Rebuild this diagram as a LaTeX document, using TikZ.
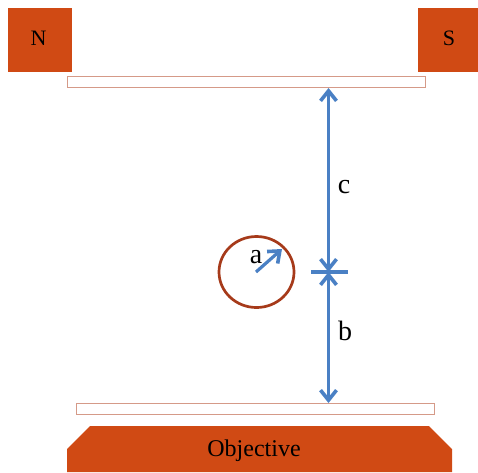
\documentclass[tikz,border=0pt]{standalone}
\usepackage{fontspec}
\setmainfont{Liberation Serif}
\usetikzlibrary{arrows.meta,shapes.geometric}
\definecolor{rust}{HTML}{D04A14}
\definecolor{ringc}{HTML}{A63A1A}
\definecolor{slidec}{HTML}{D59A88}
\definecolor{arrowc}{HTML}{4A80C4}
\tikzset{
  barb/.tip={Straight Barb[length=10pt,width=16pt,line width=3.6pt]},
  magnet/.style={fill=rust,draw=none,inner sep=0pt},
  maglab/.style={font=\fontsize{22}{26}\selectfont,inner sep=0pt,text=black},
  slide/.style={draw=slidec,line width=1.9pt,fill=white,inner sep=0pt},
  ring/.style={draw=ringc,line width=2.7pt,ellipse,inner sep=0pt},
  dim/.style={draw=arrowc,line width=3.6pt,barb-barb},
  radius arrow/.style={draw=arrowc,line width=3.2pt,-barb},
  tick/.style={draw=arrowc,line width=3.6pt},
  lab/.style={font=\fontsize{28}{30}\selectfont,inner sep=0pt,text=black}
}
\begin{document}
\begin{tikzpicture}[x=1pt,y=-1pt]
\useasboundingbox (0,0) rectangle (478,472);
\node[magnet,minimum width=64pt,minimum height=64pt] (n) at (40,40) {};
\node[maglab] (nlab) at (38.5,38.5) {N};
\node[magnet,minimum width=61pt,minimum height=64pt] (s) at (448.5,40) {};
\node[maglab] (slab) at (449,38.5) {S};
\node[slide,minimum width=358pt,minimum height=11pt] (top) at (246.5,82) {};
\node[slide,minimum width=358pt,minimum height=11pt] (bot) at (255.5,409) {};
\fill[rust] (67,472) -- (67,449) -- (90,426) -- (429,426) -- (452,449) -- (452,472) -- cycle;
\node[font=\fontsize{24}{26}\selectfont,inner sep=0pt,text=black] (obj) at (254,450.5) {Objective};
\node[ring,minimum width=75pt,minimum height=71pt] (c) at (256.5,272) {};
\coordinate (cc) at (256,272);
\coordinate (ce) at (282,249);
\draw[radius arrow] (cc) -- (ce);
\node[lab] (a) at (256,257) {a};
\coordinate (m) at (328.5,272);
\coordinate (tl) at (311,272);
\coordinate (tr) at (348,272);
\coordinate (ta) at (328.5,88);
\coordinate (ba) at (328.5,403);
\draw[tick] (tl) -- (tr);
\draw[dim] (ta) -- (m);
\draw[dim] (m) -- (ba);
\node[lab] (clab) at (344,187) {c};
\node[lab] (blab) at (345,331) {b};
\end{tikzpicture}
\end{document}
